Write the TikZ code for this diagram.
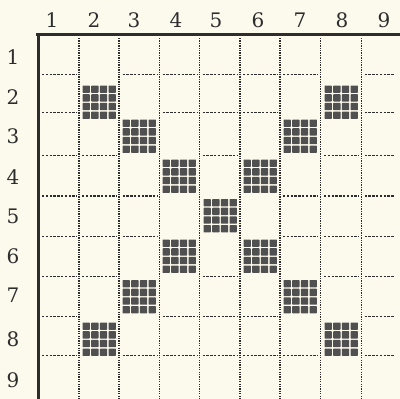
\documentclass[tikz,border=0pt]{standalone}
\usepackage{fontspec}
\setmainfont{DejaVu Serif}
\definecolor{paper}{RGB}{252,249,237}
\definecolor{ink}{RGB}{45,45,45}
\definecolor{blockink}{RGB}{80,80,80}
\tikzset{
  frameline/.style={draw=ink, line width=2.6pt},
  vdots/.style={draw=ink, line width=1.6pt, dash pattern=on 1.3pt off 1.1pt},
  hdash/.style={draw=ink, line width=1.6pt, dash pattern=on 2.4pt off 1.4pt},
  numlabel/.style={font=\fontsize{20}{20}\selectfont, text=ink, inner sep=0pt},
  blk/.pic={
    \foreach \i in {0,...,3}{
      \foreach \j in {0,...,3}{
        \fill[blockink, rounded corners=0.6pt] (-16.5+\i*8.7, -16.5+\j*8.7) rectangle ++(7.3,7.3);
      }
    }
  }
}
\begin{document}
\begin{tikzpicture}[x=1pt,y=-1pt]
\fill[paper] (0,0) rectangle (400,399);
\useasboundingbox (0,0) rectangle (400,399);

% frame
\coordinate (tl) at (36,34.5);
\coordinate (tr) at (400,34.5);
\coordinate (lt) at (38.5,36);
\coordinate (lb) at (38.5,399);
\draw[frameline] (tl) -- (tr);
\draw[frameline] (lt) -- (lb);

% vertical dotted lines
\foreach \x [count=\k] in {79,119,159.5,199.5,240,280,320.5,361.5}{
  \coordinate (vt\k) at (\x,38);
  \coordinate (vb\k) at (\x,399);
  \draw[vdots] (vt\k) -- (vb\k);
}

% horizontal dashes: column left, right, list of boundaries
\def\by#1{\ifcase#1\or74.5\or112.5\or155.5\or196\or236.5\or276.5\or316.5\or355.5\fi}
\foreach \xl/\xr/\bl in {
  42/76.5/{1,2,3,4,5,6,7,8},
  82/117/{3,4,5,6},
  122.5/157/{1,4,5,8},
  162.5/197.5/{1,2,7,8},
  202.5/238/{1,2,3,6,7,8},
  243/278/{1,2,7,8},
  283/318/{1,4,5,8},
  324/359/{3,4,5,6},
  364.5/394/{1,2,3,4,5,6,7,8}}{
  \foreach \b in \bl {
    \coordinate (hl) at (\xl,\by{\b});
    \coordinate (hr) at (\xr,\by{\b});
    \draw[hdash] (hl) -- (hr);
  }
}

% blocks
\foreach \x/\y in {99/102,139/136,179/176,220/215.5,179/256,139/296.5,99/339,
                   341/102,300/136,260/176,260/256,300/296.5,341/339}{
  \pic at (\x,\y) {blk};
}

% column labels
\foreach \x [count=\k] in {52,94,134,176,216,258,300,342,384}{
  \node[numlabel] (c\k) at (\x,20) {\k};
}
% row labels
\foreach \y [count=\k] in {57.5,97.5,136.5,177,216,256,295,339.5,380}{
  \node[numlabel] (r\k) at (13,\y) {\k};
}
\end{tikzpicture}
\end{document}
